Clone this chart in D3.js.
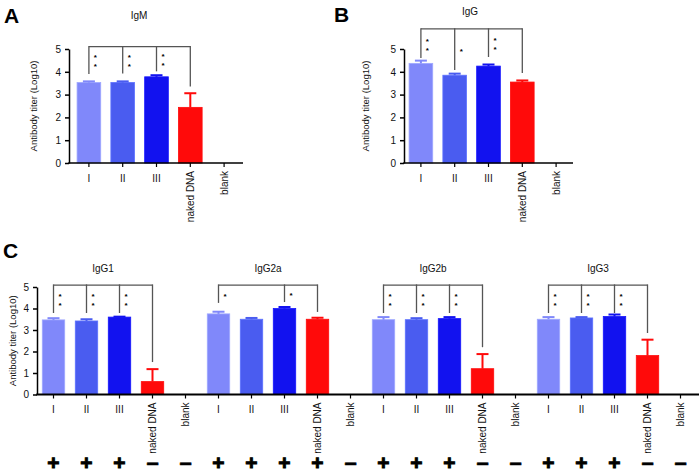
<!DOCTYPE html>
<html>
<head>
<meta charset="utf-8">
<script src="https://cdn.jsdelivr.net/npm/d3@7"></script>
<style>
html,body{margin:0;padding:0;background:#fff;}
svg{display:block;font-family:"Liberation Sans",Arial,sans-serif;}
</style>
</head>
<body>
<script>
// ---------- data ----------
const categories = ["I", "II", "III", "naked DNA", "blank"];
const barColors = ["#8088fa", "#4a5cf0", "#1212ef", "#ff0a0a", "#ffffff"];
const yTicks = [0, 1, 2, 3, 4, 5];

const igmMean  = [3.53, 3.53, 3.78, 2.44, 0];
const igmUpper = [3.58, 3.58, 3.85, 3.06, 0];
const igmStars = ["**", "**", "**", ""];
const igmDrop  = [3.9, 3.93, 4.02, 3.35];
const igmTop   = 5.1;

const iggMean  = [4.37, 3.85, 4.25, 3.55, 0];
const iggUpper = [4.49, 3.92, 4.32, 3.62, 0];
const iggStars = ["**", "*", "**", ""];
const iggDrop  = [4.6, 4.08, 4.65, 3.95];
const iggTop   = 5.88;

const cGroups = ["IgG1", "IgG2a", "IgG2b", "IgG3"];

const igg1Mean  = [3.47, 3.42, 3.6, 0.6, 0];
const igg1Upper = [3.55, 3.5, 3.62, 1.18, 0];
const igg1Stars = ["**", "**", "**", ""];
const igg1Drop  = [3.79, 3.79, 3.79, 1.51];
const igg1Signs = ["+", "+", "+", "–", "–"];

const igg2aMean  = [3.75, 3.5, 4.0, 3.5, 0];
const igg2aUpper = [3.85, 3.56, 4.07, 3.57, 0];
const igg2aStars = ["*", null, "*", ""];
const igg2aDrop  = [4.26, null, 4.3, 3.84];
const igg2aSigns = ["+", "+", "+", "+", "–"];

const igg2bMean  = [3.48, 3.48, 3.53, 1.2, 0];
const igg2bUpper = [3.6, 3.55, 3.6, 1.88, 0];
const igg2bStars = ["**", "**", "**", ""];
const igg2bDrop  = [3.79, 3.79, 3.79, 2.2];
const igg2bSigns = ["+", "+", "+", "–", "–"];

const igg3Mean  = [3.5, 3.56, 3.63, 1.81, 0];
const igg3Upper = [3.6, 3.6, 3.72, 2.55, 0];
const igg3Stars = ["**", "**", "**", ""];
const igg3Drop  = [3.79, 3.79, 3.79, 2.86];
const igg3Signs = ["+", "+", "+", "–", "–"];

const cTop = 5.09;
const cMeans  = [igg1Mean, igg2aMean, igg2bMean, igg3Mean];
const cUppers = [igg1Upper, igg2aUpper, igg2bUpper, igg3Upper];
const cStars  = [igg1Stars, igg2aStars, igg2bStars, igg3Stars];
const cDrops  = [igg1Drop, igg2aDrop, igg2bDrop, igg3Drop];
const cSigns  = [igg1Signs, igg2aSigns, igg2bSigns, igg3Signs];

// ---------- drawing ----------
const W = 699, H = 475;
const svg = d3.select("body").append("svg").attr("width", W).attr("height", H);
const FONT = "\"Liberation Sans\", Arial, sans-serif";
const bracketColor = "#555";

function drawAxes(g, y, x, yAxisX, xEnd, y0, ylabelX, axisW) {
  const ya = g.append("g").attr("transform", `translate(${yAxisX},0)`)
    .call(d3.axisLeft(y).tickValues(yTicks).tickFormat(d3.format("d"))
      .tickSize(4).tickPadding(4).tickSizeOuter(0));
  ya.select(".domain").attr("stroke", "#000").attr("stroke-width", 1.5);
  ya.selectAll(".tick line").attr("stroke", "#000").attr("stroke-width", 1.5);
  ya.selectAll(".tick text").attr("font-size", 10).attr("font-family", FONT).attr("fill", "#111");

  const xa = g.append("g").attr("transform", `translate(0,${y0})`)
    .call(d3.axisBottom(x).tickSize(4).tickFormat(""));
  xa.select(".domain").remove();
  xa.selectAll(".tick line").attr("stroke", "#000").attr("stroke-width", 1.2);
  g.append("line").attr("x1", yAxisX - 0.75).attr("x2", xEnd).attr("y1", y0).attr("y2", y0)
    .attr("stroke", "#000").attr("stroke-width", axisW);

  const yc = (y(0) + y(5)) / 2;
  g.append("text").attr("transform", `translate(${ylabelX + 3.5},${yc}) rotate(-90)`)
    .attr("text-anchor", "middle").attr("font-size", 9.5).attr("font-family", FONT)
    .attr("fill", "#111").text("Antibody titer (Log10)");
}

function drawCatLabels(g, keys, labels, x, y0) {
  keys.forEach((k, i) => {
    const cx = x(k) + x.bandwidth() / 2;
    const lab = labels[i];
    if (lab.length <= 3) {
      g.append("text").attr("x", cx).attr("y", y0 + 18.5).attr("text-anchor", "middle")
        .attr("font-size", 10).attr("font-family", FONT).attr("fill", "#111").text(lab);
    } else {
      g.append("text").attr("transform", `translate(${cx + 3.5},${y0 + 8}) rotate(-90)`)
        .attr("text-anchor", "end").attr("font-size", 10).attr("font-family", FONT)
        .attr("fill", "#111").text(lab);
    }
  });
}

function drawBars(g, keys, means, uppers, x, y) {
  keys.forEach((k, i) => {
    const v = means[i];
    if (!v) return;
    const col = barColors[i % 5];
    const bx = x(k), bw = x.bandwidth();
    g.append("rect").attr("x", bx).attr("width", bw)
      .attr("y", y(v)).attr("height", y(0) - y(v))
      .attr("fill", col).attr("stroke", d3.color(col).brighter(0.6)).attr("stroke-width", 0.8);
    const cx = bx + bw / 2;
    const u = uppers[i];
    g.append("line").attr("x1", cx).attr("x2", cx).attr("y1", y(v)).attr("y2", y(u))
      .attr("stroke", col).attr("stroke-width", 2);
    g.append("line").attr("x1", cx - 6).attr("x2", cx + 6).attr("y1", y(u)).attr("y2", y(u))
      .attr("stroke", col).attr("stroke-width", 2);
  });
}

function drawBracket(g, keys, stars, drops, top, x, y) {
  const cxs = keys.map(k => x(k) + x.bandwidth() / 2);
  const ty = y(top);
  g.append("line").attr("x1", cxs[0]).attr("x2", cxs[3]).attr("y1", ty).attr("y2", ty)
    .attr("stroke", bracketColor).attr("stroke-width", 1.3);
  for (let i = 0; i < 4; i++) {
    if (drops[i] == null) continue;
    const by = y(drops[i]);
    g.append("line").attr("x1", cxs[i]).attr("x2", cxs[i]).attr("y1", ty - 0.65).attr("y2", by)
      .attr("stroke", bracketColor).attr("stroke-width", 1.3);
    const s = stars[i];
    if (!s) continue;
    const mid = (ty + by) / 2;
    const n = s.length;
    for (let j = 0; j < n; j++) {
      const sy = mid + (j - (n - 1) / 2) * 9;
      g.append("text").attr("x", cxs[i] + 6.5).attr("y", sy + 0.57 * 8)
        .attr("text-anchor", "middle").attr("font-size", 8).attr("font-weight", "bold")
        .attr("font-family", FONT).attr("fill", "#000").attr("opacity", 0.999).text("*");
    }
  }
}

function panelLetter(t, px, py) {
  svg.append("text").attr("x", px).attr("y", py).attr("font-size", 21)
    .attr("font-weight", "bold").attr("font-family", FONT).attr("fill", "#000").text(t);
}
function title(g, t, px, py) {
  g.append("text").attr("x", px).attr("y", py).attr("text-anchor", "middle")
    .attr("font-size", 10).attr("font-family", FONT).attr("fill", "#111").text(t);
}

// Panel A
(function () {
  const g = svg.append("g");
  const y = d3.scaleLinear().domain([0, 5]).range([163, 49]);
  const x = d3.scaleBand().domain(categories).range([72, 241]).paddingInner(0.3).paddingOuter(0.15);
  drawBars(g, categories, igmMean, igmUpper, x, y);
  drawAxes(g, y, x, 69, 243, 163, 33, 1.5);
  drawCatLabels(g, categories, categories, x, 163);
  drawBracket(g, categories, igmStars, igmDrop, igmTop, x, y);
  title(g, "IgM", 139, 19);
  panelLetter("A", 4, 23);
})();

// Panel B
(function () {
  const g = svg.append("g");
  const y = d3.scaleLinear().domain([0, 5]).range([163, 49]);
  const x = d3.scaleBand().domain(categories).range([404, 573]).paddingInner(0.3).paddingOuter(0.15);
  drawBars(g, categories, iggMean, iggUpper, x, y);
  drawAxes(g, y, x, 404, 573, 163, 365, 1.5);
  drawCatLabels(g, categories, categories, x, 163);
  drawBracket(g, categories, iggStars, iggDrop, iggTop, x, y);
  title(g, "IgG", 470, 15);
  panelLetter("B", 334, 22);
})();

// Panel C
(function () {
  const g = svg.append("g");
  const y = d3.scaleLinear().domain([0, 5]).range([394.5, 287]);
  const keys = [];
  const labels = [];
  cGroups.forEach(gr => categories.forEach(c => { keys.push(gr + "|" + c); labels.push(c); }));
  const x = d3.scaleBand().domain(keys).range([37, 697]).paddingInner(0.32).paddingOuter(0.16);
  cGroups.forEach((gr, gi) => {
    const gk = categories.map(c => gr + "|" + c);
    drawBars(g, gk, cMeans[gi], cUppers[gi], x, y);
  });
  drawAxes(g, y, x, 37, 699, 394.5, 12, 2);
  drawCatLabels(g, keys, labels, x, 394.5);
  cGroups.forEach((gr, gi) => {
    const gk = categories.map(c => gr + "|" + c);
    drawBracket(g, gk, cStars[gi], cDrops[gi], cTop, x, y);
    const cx0 = x(gk[0]) + x.bandwidth() / 2, cx3 = x(gk[3]) + x.bandwidth() / 2;
    title(g, gr, (cx0 + cx3) / 2, 272);
    gk.forEach((k, i) => {
      const s = cSigns[gi][i];
      const cx = x(k) + x.bandwidth() / 2;
      const plus = s === "+";
      g.append("text").attr("x", cx).attr("y", plus ? 470 : 469.5)
        .attr("text-anchor", "middle").attr("font-size", plus ? 21 : 22)
        .attr("font-weight", "bold").attr("font-family", FONT).attr("fill", "#000")
        .attr("stroke", "#000").attr("stroke-width", plus ? 0.9 : 0.6).text(s);
    });
  });
  panelLetter("C", 3, 258);
})();
</script>
</body>
</html>
